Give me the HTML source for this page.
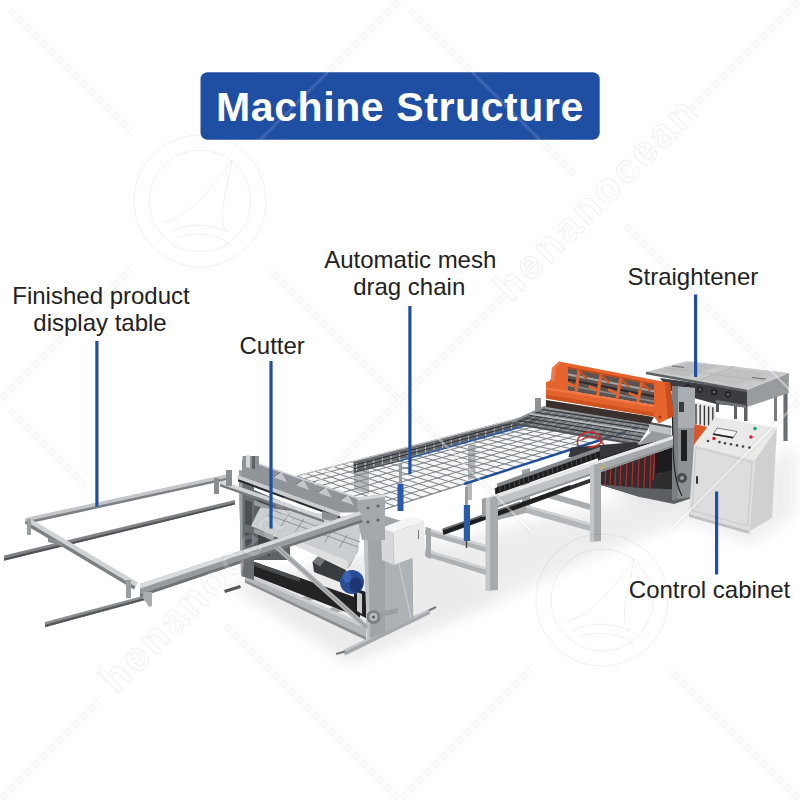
<!DOCTYPE html>
<html><head><meta charset="utf-8">
<style>
html,body{margin:0;padding:0;background:#fff;}
body{width:800px;height:800px;position:relative;overflow:hidden;font-family:"Liberation Sans",sans-serif;}
svg{position:absolute;left:0;top:0;}
.lbl{font-family:"Liberation Sans",sans-serif;font-size:24px;fill:#222;}
.ttl{font-family:"Liberation Sans",sans-serif;font-size:41px;font-weight:bold;fill:#fff;letter-spacing:0.6px;}
</style></head><body>
<svg id="machine" width="800" height="800" viewBox="0 0 800 800">
<defs><filter id="bl" x="-30%" y="-30%" width="160%" height="160%"><feGaussianBlur stdDeviation="7"/></filter></defs>
<g filter="url(#bl)" opacity="0.6">
<polygon points="228.0,585.0 350.0,664.0 500.0,602.0 520.0,560.0 430.0,540.0" fill="#dedede"/>
<polygon points="430.0,545.0 495.0,602.0 610.0,550.0 700.0,517.0 690.0,485.0" fill="#e2e2e2"/>
<polygon points="690.0,522.0 750.0,545.0 795.0,515.0 795.0,445.0" fill="#e4e4e4"/>
<polygon points="600.0,480.0 640.0,505.0 700.0,505.0 700.0,470.0" fill="#d8d8d8"/>
</g>
<polygon points="783.4,392.0 787.6,392.0 787.6,441.0 783.4,441.0" fill="#6c6f72"/>
<polygon points="774.0,392.0 777.0,392.0 777.0,421.0 774.0,421.0" fill="#7b7e81"/>
<polygon points="734.0,400.0 737.0,400.0 737.0,419.0 734.0,419.0" fill="#5f6265"/>
<polygon points="744.0,404.0 747.5,404.0 747.5,421.0 744.0,421.0" fill="#5f6265"/>
<polygon points="716.0,402.0 719.0,402.0 719.0,412.0 716.0,412.0" fill="#55585b"/>
<polygon points="734.0,401.0 747.0,404.0 747.0,407.0 734.0,404.0" fill="#6a6d70"/>
<polygon points="660.0,378.0 747.0,390.0 747.0,407.0 716.0,404.0 694.0,398.0 668.0,390.0" fill="#3b3d40"/>
<circle cx="688" cy="387.5" r="3.2" fill="#222426"/>
<circle cx="688" cy="387.5" r="1.3" fill="#6a6d70"/>
<circle cx="700" cy="389.5" r="3.2" fill="#222426"/>
<circle cx="700" cy="389.5" r="1.3" fill="#6a6d70"/>
<circle cx="714" cy="392" r="3.2" fill="#222426"/>
<circle cx="714" cy="392" r="1.3" fill="#6a6d70"/>
<circle cx="728" cy="394.5" r="3.2" fill="#222426"/>
<circle cx="728" cy="394.5" r="1.3" fill="#6a6d70"/>
<polygon points="747.0,390.0 789.0,373.0 788.6,393.0 747.0,407.0" fill="#999c9f"/>
<polygon points="646.0,372.0 687.0,361.0 789.0,373.0 747.0,390.0" fill="#c8c9ca"/>
<polygon points="655.0,371.0 690.0,362.5 720.0,366.0 686.0,376.5" fill="#bdbebf"/>
<polygon points="700.0,379.0 735.0,369.0 770.0,373.0 737.0,385.5" fill="#c0c1c2"/>
<line x1="646.0" y1="373.0" x2="747.0" y2="391.0" stroke="#5d6063" stroke-width="2.4"/>
<line x1="672.0" y1="366.0" x2="684.0" y2="367.5" stroke="#6a6d70" stroke-width="1.2"/>
<line x1="752.0" y1="377.5" x2="766.0" y2="379.0" stroke="#6a6d70" stroke-width="1.2"/>
<polygon points="716.0,400.0 746.0,405.0 746.0,408.0 716.0,403.0" fill="#707376"/>
<line x1="664.0" y1="367.5" x2="764.0" y2="381.0" stroke="#b0b2b4" stroke-width="0.8"/>
<line x1="735.0" y1="366.5" x2="700.0" y2="380.0" stroke="#a8aaac" stroke-width="0.7"/>
<polygon points="694.0,402.0 716.0,406.0 716.0,428.0 694.0,424.0" fill="#e9e9e9"/>
<line x1="696.0" y1="404.0" x2="696.0" y2="424.0" stroke="#3a3a3c" stroke-width="1.4"/>
<line x1="700.2" y1="404.8" x2="700.2" y2="424.8" stroke="#3a3a3c" stroke-width="1.4"/>
<line x1="704.4" y1="405.6" x2="704.4" y2="425.6" stroke="#3a3a3c" stroke-width="1.4"/>
<line x1="708.6" y1="406.4" x2="708.6" y2="426.4" stroke="#3a3a3c" stroke-width="1.4"/>
<line x1="712.8" y1="407.2" x2="712.8" y2="427.2" stroke="#3a3a3c" stroke-width="1.4"/>
<polygon points="694.0,424.0 712.0,428.0 706.0,444.0 694.0,446.0" fill="#d8562a"/>
<polygon points="598.0,455.0 673.0,436.0 673.0,498.0 640.0,497.0 598.0,484.0" fill="#2e2e31"/>
<polygon points="598.0,484.0 640.0,497.0 674.0,504.0 692.0,498.0 692.0,490.0 640.0,488.0" fill="#5d6063"/>
<line x1="606.0" y1="464.0" x2="605.0" y2="486.0" stroke="#b02a2a" stroke-width="1.3"/>
<line x1="611.0" y1="462.6" x2="610.0" y2="486.3" stroke="#b02a2a" stroke-width="1.3"/>
<line x1="616.0" y1="461.2" x2="615.0" y2="486.6" stroke="#b02a2a" stroke-width="1.3"/>
<line x1="621.0" y1="459.8" x2="620.0" y2="486.9" stroke="#b02a2a" stroke-width="1.3"/>
<line x1="627.0" y1="458.4" x2="626.0" y2="487.2" stroke="#b02a2a" stroke-width="1.3"/>
<line x1="633.0" y1="457.0" x2="632.0" y2="487.5" stroke="#b02a2a" stroke-width="1.3"/>
<line x1="639.0" y1="455.6" x2="638.0" y2="487.8" stroke="#b02a2a" stroke-width="1.3"/>
<line x1="645.0" y1="454.2" x2="644.0" y2="488.1" stroke="#b02a2a" stroke-width="1.3"/>
<line x1="651.0" y1="452.8" x2="650.0" y2="488.4" stroke="#b02a2a" stroke-width="1.3"/>
<line x1="655.0" y1="452.0" x2="653.0" y2="480.0" stroke="#b02a2a" stroke-width="1.6"/>
<line x1="660.0" y1="450.0" x2="659.0" y2="474.0" stroke="#b02a2a" stroke-width="1.4"/>
<polygon points="655.0,446.0 673.0,442.0 673.0,470.0 655.0,474.0" fill="#1c1c1e"/>
<polygon points="672.0,386.0 695.0,388.0 693.0,497.0 672.0,500.0" fill="#8e9295"/>
<polygon points="672.0,386.0 678.0,386.5 678.0,499.0 672.0,500.0" fill="#7c8083"/>
<polygon points="678.0,386.5 695.0,388.0 694.5,428.0 678.0,428.0" fill="#a9adb1"/>
<polygon points="681.0,430.0 687.0,430.0 687.0,461.0 681.0,461.0" fill="#1f2022"/>
<polygon points="679.0,402.0 684.0,402.0 684.0,412.0 679.0,412.0" fill="#3a3c3e"/>
<circle cx="682" cy="478" r="5" fill="#4a4d50"/>
<circle cx="682" cy="478" r="2" fill="#9a9da0"/>
<path d="M670 388 C 676 420, 668 470, 682 496" stroke="#222" stroke-width="1.2" fill="none"/>
<polygon points="535.0,398.0 541.0,398.0 541.0,412.0 535.0,412.0" fill="#8e9295"/>
<polygon points="522.0,470.0 530.0,468.0 530.0,512.0 522.0,512.0" fill="#9da1a4"/>
<polygon points="425.0,527.5 486.0,545.0 486.0,552.0 425.0,534.5" fill="#aeb2b5"/>
<polygon points="425.0,527.5 486.0,545.0 486.0,547.5 425.0,530.0" fill="#d0d3d6"/>
<polygon points="425.0,549.0 486.0,567.5 486.0,575.0 425.0,556.0" fill="#aeb2b5"/>
<polygon points="425.0,549.0 486.0,567.5 486.0,570.0 425.0,551.5" fill="#d0d3d6"/>
<polygon points="426.0,527.0 431.0,528.5 431.0,559.0 426.0,557.0" fill="#a3a7aa"/>
<polygon points="548.0,492.0 590.0,504.0 590.0,510.0 548.0,498.0" fill="#a9adb0"/>
<polygon points="526.0,505.0 590.0,523.0 590.0,531.0 526.0,513.0" fill="#b3b7ba"/>
<polygon points="526.0,505.0 590.0,523.0 590.0,525.5 526.0,507.5" fill="#d0d3d6"/>
<polygon points="498.0,512.0 526.0,505.0 526.0,513.0 498.0,520.0" fill="#a5a9ac"/>
<polygon points="498.0,511.0 592.0,478.0 592.0,482.0 498.0,516.0" fill="#2f3133"/>
<polygon points="442.5,530.0 570.0,485.0 571.0,489.0 443.5,535.0" fill="#1e1f21"/>
<polygon points="442.5,528.6 520.0,501.5 520.0,503.3 442.5,530.4" fill="#6b6f72"/>
<polygon points="466.0,484.0 472.0,482.5 472.0,500.0 466.0,500.0" fill="#b7babd"/>
<polygon points="297.0,476.0 543.0,412.0 638.0,428.0 385.0,509.0" fill="#f4f5f6"/>
<polygon points="468.0,446.0 475.5,444.0 475.5,478.0 468.0,480.0" fill="#b2b5b8"/>
<polygon points="354.0,461.0 369.0,458.0 369.0,494.0 354.0,490.0" fill="#b6babd"/>
<line x1="297.0" y1="476.0" x2="385.0" y2="509.0" stroke="#7d8286" stroke-width="1.0"/>
<line x1="306.1" y1="473.6" x2="394.4" y2="506.0" stroke="#7d8286" stroke-width="1.0"/>
<line x1="315.2" y1="471.3" x2="403.7" y2="503.0" stroke="#7d8286" stroke-width="1.0"/>
<line x1="324.3" y1="468.9" x2="413.1" y2="500.0" stroke="#7d8286" stroke-width="1.0"/>
<line x1="333.4" y1="466.5" x2="422.5" y2="497.0" stroke="#7d8286" stroke-width="1.0"/>
<line x1="342.6" y1="464.1" x2="431.9" y2="494.0" stroke="#7d8286" stroke-width="1.0"/>
<line x1="351.7" y1="461.8" x2="441.2" y2="491.0" stroke="#7d8286" stroke-width="1.0"/>
<line x1="360.8" y1="459.4" x2="450.6" y2="488.0" stroke="#7d8286" stroke-width="1.0"/>
<line x1="369.9" y1="457.0" x2="460.0" y2="485.0" stroke="#7d8286" stroke-width="1.0"/>
<line x1="379.0" y1="454.7" x2="469.3" y2="482.0" stroke="#7d8286" stroke-width="1.0"/>
<line x1="388.1" y1="452.3" x2="478.7" y2="479.0" stroke="#7d8286" stroke-width="1.0"/>
<line x1="397.2" y1="449.9" x2="488.1" y2="476.0" stroke="#7d8286" stroke-width="1.0"/>
<line x1="406.3" y1="447.6" x2="497.4" y2="473.0" stroke="#7d8286" stroke-width="1.0"/>
<line x1="415.4" y1="445.2" x2="506.8" y2="470.0" stroke="#7d8286" stroke-width="1.0"/>
<line x1="424.6" y1="442.8" x2="516.2" y2="467.0" stroke="#7d8286" stroke-width="1.0"/>
<line x1="433.7" y1="440.4" x2="525.6" y2="464.0" stroke="#7d8286" stroke-width="1.0"/>
<line x1="442.8" y1="438.1" x2="534.9" y2="461.0" stroke="#7d8286" stroke-width="1.0"/>
<line x1="451.9" y1="435.7" x2="544.3" y2="458.0" stroke="#7d8286" stroke-width="1.0"/>
<line x1="461.0" y1="433.3" x2="553.7" y2="455.0" stroke="#7d8286" stroke-width="1.0"/>
<line x1="470.1" y1="431.0" x2="563.0" y2="452.0" stroke="#7d8286" stroke-width="1.0"/>
<line x1="479.2" y1="428.6" x2="572.4" y2="449.0" stroke="#7d8286" stroke-width="1.0"/>
<line x1="488.3" y1="426.2" x2="581.8" y2="446.0" stroke="#7d8286" stroke-width="1.0"/>
<line x1="497.4" y1="423.9" x2="591.1" y2="443.0" stroke="#7d8286" stroke-width="1.0"/>
<line x1="506.6" y1="421.5" x2="600.5" y2="440.0" stroke="#7d8286" stroke-width="1.0"/>
<line x1="515.7" y1="419.1" x2="609.9" y2="437.0" stroke="#7d8286" stroke-width="1.0"/>
<line x1="524.8" y1="416.7" x2="619.3" y2="434.0" stroke="#7d8286" stroke-width="1.0"/>
<line x1="533.9" y1="414.4" x2="628.6" y2="431.0" stroke="#7d8286" stroke-width="1.0"/>
<line x1="543.0" y1="412.0" x2="638.0" y2="428.0" stroke="#7d8286" stroke-width="1.0"/>
<line x1="297.0" y1="476.0" x2="543.0" y2="412.0" stroke="#7d8286" stroke-width="1.0"/>
<line x1="304.0" y1="478.6" x2="550.6" y2="413.3" stroke="#7d8286" stroke-width="1.0"/>
<line x1="312.6" y1="481.9" x2="559.8" y2="414.8" stroke="#7d8286" stroke-width="1.0"/>
<line x1="321.9" y1="485.3" x2="569.9" y2="416.5" stroke="#7d8286" stroke-width="1.0"/>
<line x1="331.6" y1="489.0" x2="580.4" y2="418.3" stroke="#7d8286" stroke-width="1.0"/>
<line x1="341.8" y1="492.8" x2="591.3" y2="420.1" stroke="#7d8286" stroke-width="1.0"/>
<line x1="352.2" y1="496.7" x2="602.6" y2="422.0" stroke="#7d8286" stroke-width="1.0"/>
<line x1="362.9" y1="500.7" x2="614.2" y2="424.0" stroke="#7d8286" stroke-width="1.0"/>
<line x1="373.9" y1="504.8" x2="626.0" y2="426.0" stroke="#7d8286" stroke-width="1.0"/>
<line x1="385.0" y1="509.0" x2="638.0" y2="428.0" stroke="#7d8286" stroke-width="1.0"/>
<polygon points="353.6,461.3 543.0,412.0 543.0,421.0 353.6,472.3" fill="#585c60" opacity="0.85"/>
<line x1="356.6" y1="463.3" x2="356.6" y2="471.3" stroke="#c9ccce" stroke-width="1.1"/>
<line x1="365.2" y1="461.0" x2="365.2" y2="468.9" stroke="#c9ccce" stroke-width="1.1"/>
<line x1="373.8" y1="458.8" x2="373.8" y2="466.6" stroke="#c9ccce" stroke-width="1.1"/>
<line x1="382.4" y1="456.6" x2="382.4" y2="464.3" stroke="#c9ccce" stroke-width="1.1"/>
<line x1="391.0" y1="454.3" x2="391.0" y2="462.0" stroke="#c9ccce" stroke-width="1.1"/>
<line x1="399.6" y1="452.1" x2="399.6" y2="459.6" stroke="#c9ccce" stroke-width="1.1"/>
<line x1="408.2" y1="449.8" x2="408.2" y2="457.3" stroke="#c9ccce" stroke-width="1.1"/>
<line x1="416.8" y1="447.6" x2="416.8" y2="455.0" stroke="#c9ccce" stroke-width="1.1"/>
<line x1="425.5" y1="445.4" x2="425.5" y2="452.6" stroke="#c9ccce" stroke-width="1.1"/>
<line x1="434.1" y1="443.1" x2="434.1" y2="450.3" stroke="#c9ccce" stroke-width="1.1"/>
<line x1="442.7" y1="440.9" x2="442.7" y2="448.0" stroke="#c9ccce" stroke-width="1.1"/>
<line x1="451.3" y1="438.6" x2="451.3" y2="445.6" stroke="#c9ccce" stroke-width="1.1"/>
<line x1="459.9" y1="436.4" x2="459.9" y2="443.3" stroke="#c9ccce" stroke-width="1.1"/>
<line x1="468.5" y1="434.2" x2="468.5" y2="441.0" stroke="#c9ccce" stroke-width="1.1"/>
<line x1="477.1" y1="431.9" x2="477.1" y2="438.6" stroke="#c9ccce" stroke-width="1.1"/>
<line x1="485.7" y1="429.7" x2="485.7" y2="436.3" stroke="#c9ccce" stroke-width="1.1"/>
<line x1="494.3" y1="427.4" x2="494.3" y2="434.0" stroke="#c9ccce" stroke-width="1.1"/>
<line x1="502.9" y1="425.2" x2="502.9" y2="431.7" stroke="#c9ccce" stroke-width="1.1"/>
<line x1="511.6" y1="423.0" x2="511.6" y2="429.3" stroke="#c9ccce" stroke-width="1.1"/>
<line x1="520.2" y1="420.7" x2="520.2" y2="427.0" stroke="#c9ccce" stroke-width="1.1"/>
<line x1="528.8" y1="418.5" x2="528.8" y2="424.7" stroke="#c9ccce" stroke-width="1.1"/>
<line x1="537.4" y1="416.2" x2="537.4" y2="422.3" stroke="#c9ccce" stroke-width="1.1"/>
<line x1="353.6" y1="465.3" x2="543.0" y2="415.2" stroke="#2f3235" stroke-width="1.1"/>
<line x1="353.6" y1="468.8" x2="543.0" y2="418.0" stroke="#2f3235" stroke-width="1.0"/>
<line x1="297.0" y1="476.0" x2="543.0" y2="412.0" stroke="#c4c7c9" stroke-width="1.2"/>
<line x1="353.6" y1="472.3" x2="399.0" y2="461.0" stroke="#4a4e52" stroke-width="1.4"/>
<line x1="399.0" y1="461.0" x2="537.0" y2="422.5" stroke="#2f5a9a" stroke-width="1.8"/>
<line x1="385.0" y1="509.0" x2="464.0" y2="484.0" stroke="#8a8f93" stroke-width="1.2"/>
<line x1="464.0" y1="484.0" x2="638.0" y2="428.0" stroke="#1f4f98" stroke-width="2.4"/>
<polygon points="545.6,406.5 652.5,422.0 638.0,444.5 510.0,423.0" fill="#5d6266" opacity="0.78"/>
<line x1="553.2" y1="407.6" x2="519.1" y2="424.5" stroke="#aeb2b5" stroke-width="0.9"/>
<line x1="560.9" y1="408.7" x2="528.3" y2="426.1" stroke="#aeb2b5" stroke-width="0.9"/>
<line x1="568.5" y1="409.8" x2="537.4" y2="427.6" stroke="#aeb2b5" stroke-width="0.9"/>
<line x1="576.1" y1="410.9" x2="546.6" y2="429.1" stroke="#aeb2b5" stroke-width="0.9"/>
<line x1="583.8" y1="412.0" x2="555.7" y2="430.7" stroke="#aeb2b5" stroke-width="0.9"/>
<line x1="591.4" y1="413.1" x2="564.9" y2="432.2" stroke="#aeb2b5" stroke-width="0.9"/>
<line x1="599.0" y1="414.2" x2="574.0" y2="433.8" stroke="#aeb2b5" stroke-width="0.9"/>
<line x1="606.7" y1="415.4" x2="583.1" y2="435.3" stroke="#aeb2b5" stroke-width="0.9"/>
<line x1="614.3" y1="416.5" x2="592.3" y2="436.8" stroke="#aeb2b5" stroke-width="0.9"/>
<line x1="622.0" y1="417.6" x2="601.4" y2="438.4" stroke="#aeb2b5" stroke-width="0.9"/>
<line x1="629.6" y1="418.7" x2="610.6" y2="439.9" stroke="#aeb2b5" stroke-width="0.9"/>
<line x1="637.2" y1="419.8" x2="619.7" y2="441.4" stroke="#aeb2b5" stroke-width="0.9"/>
<line x1="644.9" y1="420.9" x2="628.9" y2="443.0" stroke="#aeb2b5" stroke-width="0.9"/>
<line x1="539.7" y1="409.2" x2="650.1" y2="425.8" stroke="#34383b" stroke-width="1.2"/>
<line x1="533.7" y1="412.0" x2="647.7" y2="429.5" stroke="#34383b" stroke-width="1.2"/>
<line x1="527.8" y1="414.8" x2="645.2" y2="433.2" stroke="#34383b" stroke-width="1.2"/>
<line x1="521.9" y1="417.5" x2="642.8" y2="437.0" stroke="#34383b" stroke-width="1.2"/>
<line x1="515.9" y1="420.2" x2="640.4" y2="440.8" stroke="#34383b" stroke-width="1.2"/>
<line x1="545.6" y1="406.5" x2="510.0" y2="423.0" stroke="#8d9195" stroke-width="2.2"/>
<line x1="510.0" y1="423.0" x2="638.0" y2="444.5" stroke="#4e5256" stroke-width="2.2"/>
<line x1="545.6" y1="407.5" x2="652.5" y2="423.0" stroke="#9a9ea2" stroke-width="2.0"/>
<line x1="529.6" y1="413.9" x2="646.0" y2="432.1" stroke="#b9bdc0" stroke-width="1.8"/>
<polygon points="649.0,422.0 671.5,426.0 671.5,436.0 649.0,432.0" fill="#c0c4c8"/>
<polygon points="649.0,422.0 671.5,426.0 671.5,428.0 649.0,424.0" fill="#4a4d50"/>
<polygon points="546.0,400.0 654.0,417.0 650.0,424.0 546.0,407.0" fill="#3b302d"/>
<polygon points="559.0,366.0 670.0,387.5 654.0,405.0 546.0,387.0" fill="#5b5452"/>
<line x1="561.0" y1="373.0" x2="666.0" y2="393.5" stroke="#a3a5a7" stroke-width="2.2"/>
<line x1="560.0" y1="378.0" x2="662.0" y2="398.0" stroke="#2e2a29" stroke-width="2.0"/>
<line x1="556.0" y1="383.0" x2="657.0" y2="402.0" stroke="#8a8c8e" stroke-width="1.4"/>
<polygon points="559.0,361.5 670.0,383.0 670.0,388.0 559.0,366.5" fill="#e5632c"/>
<polygon points="559.0,365.0 670.0,386.5 670.0,388.3 559.0,366.8" fill="#b8451a"/>
<line x1="578.9" y1="369.7" x2="576.1" y2="391.7" stroke="#e5632c" stroke-width="3.2"/>
<line x1="576.1" y1="386.7" x2="567.1" y2="382.7" stroke="#e5632c" stroke-width="2.6"/>
<line x1="578.9" y1="370.7" x2="586.9" y2="378.7" stroke="#d4521f" stroke-width="2.2"/>
<line x1="601.1" y1="374.0" x2="597.7" y2="395.3" stroke="#e5632c" stroke-width="3.2"/>
<line x1="597.7" y1="390.3" x2="588.7" y2="386.3" stroke="#e5632c" stroke-width="2.6"/>
<line x1="601.1" y1="375.0" x2="609.1" y2="383.0" stroke="#d4521f" stroke-width="2.2"/>
<line x1="621.0" y1="377.8" x2="617.1" y2="398.5" stroke="#e5632c" stroke-width="3.2"/>
<line x1="617.1" y1="393.5" x2="608.1" y2="389.5" stroke="#e5632c" stroke-width="2.6"/>
<line x1="621.0" y1="378.8" x2="629.0" y2="386.8" stroke="#d4521f" stroke-width="2.2"/>
<line x1="642.1" y1="381.9" x2="637.6" y2="401.9" stroke="#e5632c" stroke-width="3.2"/>
<line x1="637.6" y1="396.9" x2="628.6" y2="392.9" stroke="#e5632c" stroke-width="2.6"/>
<line x1="642.1" y1="382.9" x2="650.1" y2="390.9" stroke="#d4521f" stroke-width="2.2"/>
<polygon points="546.0,387.0 654.0,405.0 654.0,416.5 546.0,398.5" fill="#e5632c"/>
<polygon points="546.0,387.0 654.0,405.0 654.0,407.2 546.0,389.2" fill="#f0794a"/>
<polygon points="546.0,394.5 654.0,412.5 654.0,416.5 546.0,398.5" fill="#cf5220"/>
<polygon points="546.0,382.0 551.0,380.5 552.0,368.0 559.0,361.5 568.0,366.5 568.0,391.0 546.0,387.5" fill="#e5632c"/>
<polygon points="552.0,368.0 559.0,361.5 561.0,363.0 556.0,368.0 555.0,381.0 551.0,382.0" fill="#f0794a"/>
<polygon points="654.0,383.5 670.0,382.0 673.5,416.0 659.0,423.5 654.0,416.5" fill="#e5632c"/>
<polygon points="665.0,383.0 670.0,382.0 673.5,416.0 668.0,419.0" fill="#c94d1d"/>
<circle cx="660" cy="417" r="1.5" fill="#9a3a14"/>
<polygon points="598.0,448.0 638.0,444.5 652.0,431.0 673.0,435.5 673.0,438.0 600.0,453.0" fill="#979b9f"/>
<polygon points="571.0,447.5 636.0,442.0 640.0,446.0 600.0,458.0 568.5,457.0" fill="#35373a"/>
<polygon points="497.0,483.5 600.0,447.0 600.0,451.5 497.0,488.0" fill="#84888c"/>
<polygon points="495.0,488.0 600.0,451.0 600.0,457.5 495.0,494.5" fill="#1d1e20"/>
<line x1="495.0" y1="488.0" x2="495.6" y2="493.5" stroke="#5a5d60" stroke-width="0.7"/>
<line x1="499.8" y1="486.3" x2="500.4" y2="491.8" stroke="#5a5d60" stroke-width="0.7"/>
<line x1="504.5" y1="484.6" x2="505.1" y2="490.1" stroke="#5a5d60" stroke-width="0.7"/>
<line x1="509.3" y1="483.0" x2="509.9" y2="488.5" stroke="#5a5d60" stroke-width="0.7"/>
<line x1="514.1" y1="481.3" x2="514.7" y2="486.8" stroke="#5a5d60" stroke-width="0.7"/>
<line x1="518.9" y1="479.6" x2="519.5" y2="485.1" stroke="#5a5d60" stroke-width="0.7"/>
<line x1="523.6" y1="477.9" x2="524.2" y2="483.4" stroke="#5a5d60" stroke-width="0.7"/>
<line x1="528.4" y1="476.2" x2="529.0" y2="481.7" stroke="#5a5d60" stroke-width="0.7"/>
<line x1="533.2" y1="474.5" x2="533.8" y2="480.0" stroke="#5a5d60" stroke-width="0.7"/>
<line x1="538.0" y1="472.9" x2="538.6" y2="478.4" stroke="#5a5d60" stroke-width="0.7"/>
<line x1="542.7" y1="471.2" x2="543.3" y2="476.7" stroke="#5a5d60" stroke-width="0.7"/>
<line x1="547.5" y1="469.5" x2="548.1" y2="475.0" stroke="#5a5d60" stroke-width="0.7"/>
<line x1="552.3" y1="467.8" x2="552.9" y2="473.3" stroke="#5a5d60" stroke-width="0.7"/>
<line x1="557.0" y1="466.1" x2="557.6" y2="471.6" stroke="#5a5d60" stroke-width="0.7"/>
<line x1="561.8" y1="464.5" x2="562.4" y2="470.0" stroke="#5a5d60" stroke-width="0.7"/>
<line x1="566.6" y1="462.8" x2="567.2" y2="468.3" stroke="#5a5d60" stroke-width="0.7"/>
<line x1="571.4" y1="461.1" x2="572.0" y2="466.6" stroke="#5a5d60" stroke-width="0.7"/>
<line x1="576.1" y1="459.4" x2="576.7" y2="464.9" stroke="#5a5d60" stroke-width="0.7"/>
<line x1="580.9" y1="457.7" x2="581.5" y2="463.2" stroke="#5a5d60" stroke-width="0.7"/>
<line x1="585.7" y1="456.0" x2="586.3" y2="461.5" stroke="#5a5d60" stroke-width="0.7"/>
<line x1="590.5" y1="454.4" x2="591.1" y2="459.9" stroke="#5a5d60" stroke-width="0.7"/>
<line x1="595.2" y1="452.7" x2="595.8" y2="458.2" stroke="#5a5d60" stroke-width="0.7"/>
<path d="M578 446 C 574 432, 594 428, 600 436 C 606 442, 596 448, 588 447" stroke="#c82f2f" stroke-width="1.6" fill="none"/>
<path d="M582 440 C 588 434, 598 436, 604 445" stroke="#c82f2f" stroke-width="1.3" fill="none"/>
<polygon points="482.0,499.0 673.0,436.0 673.0,447.0 482.0,513.0" fill="#bfc3c6"/>
<polygon points="601.0,459.7 673.0,436.0 673.0,447.0 601.0,472.2" fill="#a6aaae"/>
<polygon points="482.0,499.0 673.0,436.0 673.0,439.2 482.0,502.5" fill="#e6e8ea"/>
<polygon points="482.0,511.0 673.0,445.3 673.0,447.0 482.0,513.0" fill="#8d9194"/>
<polygon points="482.0,499.0 486.0,497.7 486.0,516.0 482.0,517.3" fill="#9a9ea1"/>
<polygon points="598.0,467.0 603.0,465.3 603.0,469.0 598.0,470.7" fill="#e0b020"/>
<polygon points="485.8,499.0 498.0,495.0 498.0,590.0 485.8,591.0" fill="#a6aaad"/>
<polygon points="485.8,499.0 490.0,497.7 490.0,590.8 485.8,591.0" fill="#c3c7ca"/>
<polygon points="590.0,466.0 601.0,462.5 601.0,541.0 590.0,542.0" fill="#a6aaad"/>
<polygon points="590.0,466.0 594.0,464.8 594.0,541.7 590.0,542.0" fill="#c3c7ca"/>
<polygon points="465.0,487.0 468.0,487.0 468.0,506.0 465.0,506.0" fill="#9a9da0"/>
<polygon points="463.8,505.0 470.0,505.0 470.0,541.0 463.8,541.0" fill="#2a5aa8"/>
<line x1="466.5" y1="541.0" x2="466.5" y2="548.0" stroke="#444" stroke-width="1.4"/>
<polygon points="399.0,464.0 402.0,464.0 402.0,484.0 399.0,484.0" fill="#9a9da0"/>
<polygon points="397.5,484.0 403.5,484.0 403.5,511.0 397.5,511.0" fill="#2a5aa8"/>
<polygon points="325.0,610.0 347.0,603.0 350.0,608.0 328.0,616.0" fill="#a9adb0"/>
<polygon points="300.0,598.0 322.0,591.0 325.0,596.0 303.0,603.0" fill="#a9adb0"/>
<polygon points="245.0,572.5 366.0,625.0 366.0,640.0 245.0,582.5" fill="#b3b7ba"/>
<polygon points="245.0,572.5 366.0,625.0 366.0,628.5 245.0,575.5" fill="#cdd0d3"/>
<polygon points="245.0,580.0 366.0,637.0 366.0,640.0 245.0,582.5" fill="#8a8e91"/>
<polygon points="343.5,650.0 429.0,609.0 430.0,614.0 345.0,655.5" fill="#a4a8ab"/>
<polygon points="343.5,650.0 429.0,609.0 429.3,611.0 344.0,652.0" fill="#c3c7ca"/>
<line x1="336.0" y1="654.0" x2="345.0" y2="651.5" stroke="#777" stroke-width="2"/>
<line x1="429.0" y1="610.5" x2="436.0" y2="607.0" stroke="#777" stroke-width="2"/>
<polygon points="254.0,490.0 290.0,505.0 290.0,560.0 254.0,560.0" fill="#5d6266"/>
<polygon points="258.0,500.0 272.0,506.0 272.0,526.0 258.0,521.0" fill="#3f4245"/>
<polygon points="258.0,532.0 270.0,537.0 270.0,556.0 258.0,552.0" fill="#3f4245"/>
<polygon points="245.0,558.7 312.0,582.0 360.0,599.0 360.0,617.5 245.0,572.5" fill="#222325"/>
<polygon points="245.0,558.7 300.0,578.0 300.0,582.0 245.0,563.0" fill="#4a4d50"/>
<polygon points="239.0,470.0 254.0,474.0 254.0,580.0 241.0,576.0" fill="#676d71"/>
<polygon points="239.0,470.0 242.5,471.0 242.5,576.5 241.0,576.0" fill="#9aa0a3"/>
<polygon points="245.0,500.0 252.0,502.0 252.0,526.0 245.0,524.0" fill="#4a5054"/>
<polygon points="245.0,532.0 252.0,534.0 252.0,560.0 245.0,558.0" fill="#4a5054"/>
<polygon points="254.0,500.0 282.0,511.0 282.0,516.0 254.0,505.0" fill="#959b9e"/>
<polygon points="254.0,528.0 274.0,536.0 274.0,541.0 254.0,533.0" fill="#959b9e"/>
<polygon points="354.0,588.0 366.0,592.0 366.0,618.0 354.0,612.0" fill="#1f2022"/>
<polygon points="357.0,592.0 362.0,594.0 362.0,614.0 357.0,611.0" fill="#c9ccce"/>
<polygon points="312.5,562.0 318.0,556.5 346.0,570.0 342.0,583.0 314.0,572.0" fill="#3a3d40"/>
<polygon points="312.5,562.0 318.0,556.5 325.0,560.0 320.0,566.5" fill="#74787b"/>
<ellipse cx="352" cy="582" rx="12" ry="12" fill="#2b4c96"/>
<ellipse cx="356" cy="585" rx="6.5" ry="7.5" fill="#1d3673"/>
<ellipse cx="347" cy="577" rx="4" ry="6" fill="#3b62b4"/>
<polygon points="260.0,507.5 251.0,526.0 347.5,569.0 358.0,552.0 362.0,518.0" fill="#cbced1"/>
<polygon points="296.0,540.0 348.0,561.0 347.5,569.0 286.0,541.5" fill="#dddfe1"/>
<polygon points="347.5,569.0 358.0,550.0 360.0,545.0 350.0,566.0" fill="#8a8e91"/>
<line x1="289.5" y1="513.3" x2="280.7" y2="526.3" stroke="#7b7f83" stroke-width="0.7"/>
<line x1="304.0" y1="518.7" x2="295.3" y2="531.7" stroke="#7b7f83" stroke-width="0.7"/>
<line x1="318.5" y1="524.0" x2="310.0" y2="537.0" stroke="#7b7f83" stroke-width="0.7"/>
<line x1="333.0" y1="529.3" x2="324.7" y2="542.3" stroke="#7b7f83" stroke-width="0.7"/>
<line x1="347.5" y1="534.7" x2="339.3" y2="547.7" stroke="#7b7f83" stroke-width="0.7"/>
<line x1="268.0" y1="515.0" x2="358.0" y2="547.0" stroke="#7b7f83" stroke-width="0.7"/>
<line x1="272.0" y1="510.0" x2="360.0" y2="542.0" stroke="#7b7f83" stroke-width="0.7"/>
<polygon points="363.0,502.0 385.0,499.0 385.0,516.0 412.0,524.0 413.3,620.0 367.0,640.0" fill="#a0a5a9"/>
<polygon points="385.0,560.0 412.0,552.0 413.3,620.0 385.0,632.0" fill="#adb2b6"/>
<polygon points="363.0,502.0 367.0,501.4 370.0,639.0 367.0,640.0" fill="#bfc3c6"/>
<line x1="398.0" y1="560.0" x2="411.0" y2="618.0" stroke="#d5d8da" stroke-width="0.8"/>
<circle cx="373.5" cy="617" r="7" fill="#7d8184"/>
<circle cx="373.5" cy="617" r="4" fill="#b9bdc0"/>
<circle cx="373.5" cy="617" r="1.6" fill="#5c6063"/>
<polygon points="380.0,612.0 398.0,608.0 398.0,613.0 380.0,617.0" fill="#9a9ea1"/>
<polygon points="381.0,528.0 410.0,517.0 424.0,520.5 393.0,533.0" fill="#f4f4f4"/>
<polygon points="393.0,533.0 424.0,520.5 425.0,553.0 394.0,565.0" fill="#e9eaea"/>
<polygon points="381.0,528.0 393.0,533.0 394.0,565.0 382.0,560.0" fill="#d6d8d9"/>
<line x1="393.0" y1="533.0" x2="394.0" y2="565.0" stroke="#c2c4c5" stroke-width="0.7"/>
<line x1="418.5" y1="530.0" x2="418.5" y2="539.0" stroke="#777" stroke-width="1"/>
<polygon points="242.0,460.0 259.0,464.0 360.0,499.0 360.0,512.5 340.0,512.5 242.0,478.0" fill="#8f9599"/>
<polygon points="273.1,477.2 281.1,471.7 287.1,482.2" fill="#c3c7ca"/>
<line x1="273.1" y1="477.2" x2="281.1" y2="471.7" stroke="#6d7174" stroke-width="0.9"/>
<polygon points="295.3,484.9 303.3,479.4 309.3,489.9" fill="#c3c7ca"/>
<line x1="295.3" y1="484.9" x2="303.3" y2="479.4" stroke="#6d7174" stroke-width="0.9"/>
<polygon points="317.6,492.6 325.6,487.1 331.6,497.6" fill="#c3c7ca"/>
<line x1="317.6" y1="492.6" x2="325.6" y2="487.1" stroke="#6d7174" stroke-width="0.9"/>
<polygon points="339.8,500.3 347.8,494.8 353.8,505.3" fill="#c3c7ca"/>
<line x1="339.8" y1="500.3" x2="347.8" y2="494.8" stroke="#6d7174" stroke-width="0.9"/>
<line x1="259.0" y1="464.0" x2="360.0" y2="499.0" stroke="#d0d3d6" stroke-width="1.4"/>
<polygon points="242.5,456.0 259.0,456.0 259.0,470.0 242.5,466.0" fill="#8c9296"/>
<polygon points="246.0,455.0 250.0,455.0 250.0,468.0 246.0,467.0" fill="#d5d8da"/>
<polygon points="252.0,456.0 255.0,456.0 255.0,469.0 252.0,468.5" fill="#5d6164"/>
<polygon points="237.5,475.0 340.0,512.5 340.0,516.5 237.5,479.0" fill="#c9cdd0"/>
<line x1="238.0" y1="480.2" x2="340.0" y2="517.6" stroke="#26282a" stroke-width="2.0"/>
<polygon points="220.0,480.0 324.0,516.0 324.0,522.0 220.0,486.0" fill="#d0d4d7"/>
<polygon points="220.0,484.0 324.0,520.0 324.0,522.4 220.0,486.4" fill="#75797d"/>
<polygon points="322.0,511.0 338.0,515.5 338.0,522.0 322.0,519.0" fill="#8d9194"/>
<polygon points="357.5,497.5 385.0,494.0 385.0,540.0 362.0,540.0 357.5,520.0" fill="#a4a9ad"/>
<polygon points="357.5,497.5 385.0,494.0 385.0,497.0 357.5,500.5" fill="#d5d8da"/>
<circle cx="368" cy="508" r="1.6" fill="#5f6366"/>
<circle cx="378" cy="506" r="1.6" fill="#5f6366"/>
<circle cx="368" cy="522" r="1.6" fill="#5f6366"/>
<circle cx="378" cy="520" r="1.6" fill="#5f6366"/>
<polygon points="140.0,584.0 360.0,511.5 362.5,522.0 140.0,597.0" fill="#969b9f"/>
<polygon points="140.0,584.0 360.0,511.5 361.0,514.8 140.0,588.5" fill="#d9dcde"/>
<polygon points="140.0,594.2 362.0,519.8 362.5,522.3 140.0,597.3" fill="#6f7377"/>
<polygon points="274.0,548.0 279.0,545.5 369.0,626.0 365.0,629.0" fill="#b0b4b7"/>
<line x1="276.5" y1="546.8" x2="367.0" y2="627.5" stroke="#83878a" stroke-width="0.9"/>
<polygon points="224.0,590.0 240.0,585.0 241.0,588.0 225.0,593.0" fill="#55585b"/>
<polygon points="4.0,555.5 235.0,500.0 235.0,504.3 4.0,560.5" fill="#808487"/>
<polygon points="4.0,558.5 235.0,502.7 235.0,504.6 4.0,560.8" fill="#4f5255"/>
<polygon points="45.0,622.0 150.0,594.0 150.0,598.5 45.0,627.0" fill="#8a8e91"/>
<polygon points="45.0,624.7 150.0,596.5 150.0,598.8 45.0,627.3" fill="#55585b"/>
<polygon points="25.0,518.0 228.0,474.0 228.0,479.5 25.0,524.0" fill="#c4c7ca"/>
<polygon points="25.0,521.5 228.0,477.4 228.0,479.8 25.0,524.2" fill="#7c8083"/>
<polygon points="30.0,518.5 138.0,582.5 134.0,589.0 26.5,525.0" fill="#d0d3d5"/>
<polygon points="28.0,522.5 135.5,586.5 134.0,589.4 26.5,525.4" fill="#7c8083"/>
<polygon points="27.0,519.0 31.0,519.0 31.0,535.0 27.0,535.0" fill="#9a9ea1"/>
<polygon points="48.0,538.0 62.0,542.0 62.0,546.0 48.0,542.0" fill="#8a8e91"/>
<polygon points="126.0,580.0 131.0,580.0 131.0,598.0 126.0,598.0" fill="#9a9ea1"/>
<polygon points="143.0,592.0 152.0,592.0 152.0,606.0 149.0,607.0 143.0,598.0" fill="#a9adb0"/>
<polygon points="214.0,478.0 219.0,478.0 219.0,494.0 214.0,494.0" fill="#8a8e91"/>
<polygon points="226.0,470.0 232.0,470.0 232.0,486.0 226.0,486.0" fill="#8a8e91"/>
<polygon points="755.0,460.0 777.0,428.0 772.0,518.0 749.6,531.0" fill="#cfd0cf"/>
<polygon points="694.0,444.4 755.0,460.0 749.6,531.0 689.0,514.0" fill="#dcdddc"/>
<polygon points="715.0,417.0 777.0,428.0 755.0,460.0 694.0,444.4" fill="#e9e9e8"/>
<polygon points="696.0,447.5 752.0,462.0 747.5,526.0 692.0,510.5" fill="none" stroke="#c2c3c2" stroke-width="0.8"/>
<polygon points="689.0,514.0 749.6,531.0 749.4,534.0 689.0,517.0" fill="#bfc0bf"/>
<polygon points="717.0,428.0 737.0,431.5 733.0,438.0 713.0,434.5" fill="#f4f4f4" stroke="#555" stroke-width="0.7"/>
<line x1="713.0" y1="434.0" x2="733.0" y2="437.6" stroke="#222" stroke-width="1.6"/>
<circle cx="714" cy="438.5" r="1.8" fill="#d02030"/>
<circle cx="755" cy="428.5" r="1.8" fill="#18a070"/>
<circle cx="751" cy="437" r="1.8" fill="#d02030"/>
<circle cx="708" cy="441.0" r="1.3" fill="#444"/>
<circle cx="719.5" cy="442.1" r="1.3" fill="#444"/>
<circle cx="725" cy="443.2" r="1.3" fill="#444"/>
<circle cx="731" cy="444.3" r="1.3" fill="#444"/>
<circle cx="737" cy="445.4" r="1.3" fill="#444"/>
<circle cx="743" cy="446.5" r="1.3" fill="#444"/>
<circle cx="749.5" cy="447.6" r="1.3" fill="#444"/>
<polygon points="696.0,476.0 698.0,476.5 698.0,484.0 696.0,483.5" fill="#333"/>
</svg>
<svg id="labels" width="800" height="800" viewBox="0 0 800 800">
<g id="wm" fill="none">
<g stroke="#000" stroke-opacity="0.07" stroke-width="0.9">
<path d="M8.5 11.5L130.500 133.500M11.5 8.5L133.500 130.500M268.5 271.5L398.5 401.5M271.5 268.5L401.5 398.5"/>
<path d="M398.5 -1.5L268.500 128.500M401.5 1.5L271.500 131.500M130.5 266.5L-1.5 398.5M133.5 269.5L1.5 401.5"/>
<path d="M408.5 11.5L573.5 176.5M411.5 8.5L576.5 173.5M623.5 226.5L798.5 401.5M626.5 223.5L801.5 398.5"/>
<path d="M798.5 -1.5L688.5 108.5M801.5 1.5L691.5 111.5M503.5 293.5L398.5 398.5M506.5 296.5L401.5 401.5"/>
<path d="M8.5 411.5L83.5 486.5M11.5 408.5L86.5 483.5M223.5 626.5L398.5 801.5M226.5 623.5L401.5 798.5"/>
<path d="M398.5 398.5L313.5 483.5M401.5 401.5L316.5 486.5M98.5 698.5L-1.5 798.5M101.5 701.5L1.5 801.5"/>
<path d="M408.5 411.5L530.5 533.5M411.5 408.5L533.5 530.5M668.5 671.5L798.5 801.5M671.5 668.5L801.5 798.5"/>
<path d="M798.5 398.5L668.5 528.5M801.5 401.5L671.5 531.5M530.5 666.5L398.5 798.5M533.5 669.5L401.5 801.5"/>
<circle cx="200" cy="201" r="66"/><circle cx="200" cy="201" r="51"/>
<circle cx="602" cy="600" r="66"/><circle cx="602" cy="600" r="51"/>
<path d="M165 222C185 216 203 202 232 160C226 195 216 222 228 232C205 222 185 224 170 232M176 238C200 230 222 236 232 246"/>
<path d="M567 621C587 615 605 601 634 559C628 594 618 621 630 631C607 621 587 623 572 631M578 637C602 629 624 635 634 645"/>
</g>
<g stroke="#fff" stroke-opacity="0.35" stroke-width="2.6">
<path d="M10 10L132 132M270 270L400 400M400 0L270 130M132 268L0 400"/>
<path d="M410 10L575 175M625 225L800 400M800 0L690 110M505 295L400 400"/>
<path d="M10 410L85 485M225 625L400 800M400 400L315 485M100 700L0 800"/>
<path d="M410 410L532 532M670 670L800 800M800 400L670 530M532 668L400 800"/>
</g>
<g font-family="'Liberation Sans',sans-serif" font-weight="bold" font-size="41" fill="#fff" fill-opacity="0.18" stroke="#000" stroke-opacity="0.085" stroke-width="1" letter-spacing="3" text-anchor="middle">
<text transform="translate(606,208) rotate(-45)">henanocean</text>
<text transform="translate(212,600) rotate(-45)">henanocean</text>
</g>
</g>
<rect x="200.5" y="72.3" width="399.2" height="67.5" rx="7" ry="7" fill="#1f4fa3"/>
<text class="ttl" x="216" y="121">Machine Structure</text>
<text class="lbl" x="101" y="303.8" text-anchor="middle">Finished product</text>
<text class="lbl" x="100" y="331" text-anchor="middle">display table</text>
<text class="lbl" x="239.5" y="353.7">Cutter</text>
<text class="lbl" x="410.3" y="267.5" text-anchor="middle">Automatic mesh</text>
<text class="lbl" x="409.2" y="294.5" text-anchor="middle">drag chain</text>
<text class="lbl" x="627.5" y="285">Straightener</text>
<text class="lbl" x="628.8" y="598">Control cabinet</text>
<path d="M328 72L260 140M472 72L540 140" stroke="#fff" stroke-opacity="0.13" stroke-width="3" fill="none"/>
<g fill="#1f4fa3">
<rect x="95.3" y="341" width="3.2" height="165.5"/>
<rect x="269.4" y="361" width="3.2" height="167.5"/>
<rect x="408.3" y="306" width="3.2" height="168"/>
<rect x="694" y="294.5" width="3.2" height="82.5"/>
<rect x="715" y="491.5" width="3.2" height="83"/>
</g>
</svg>
</body></html>
